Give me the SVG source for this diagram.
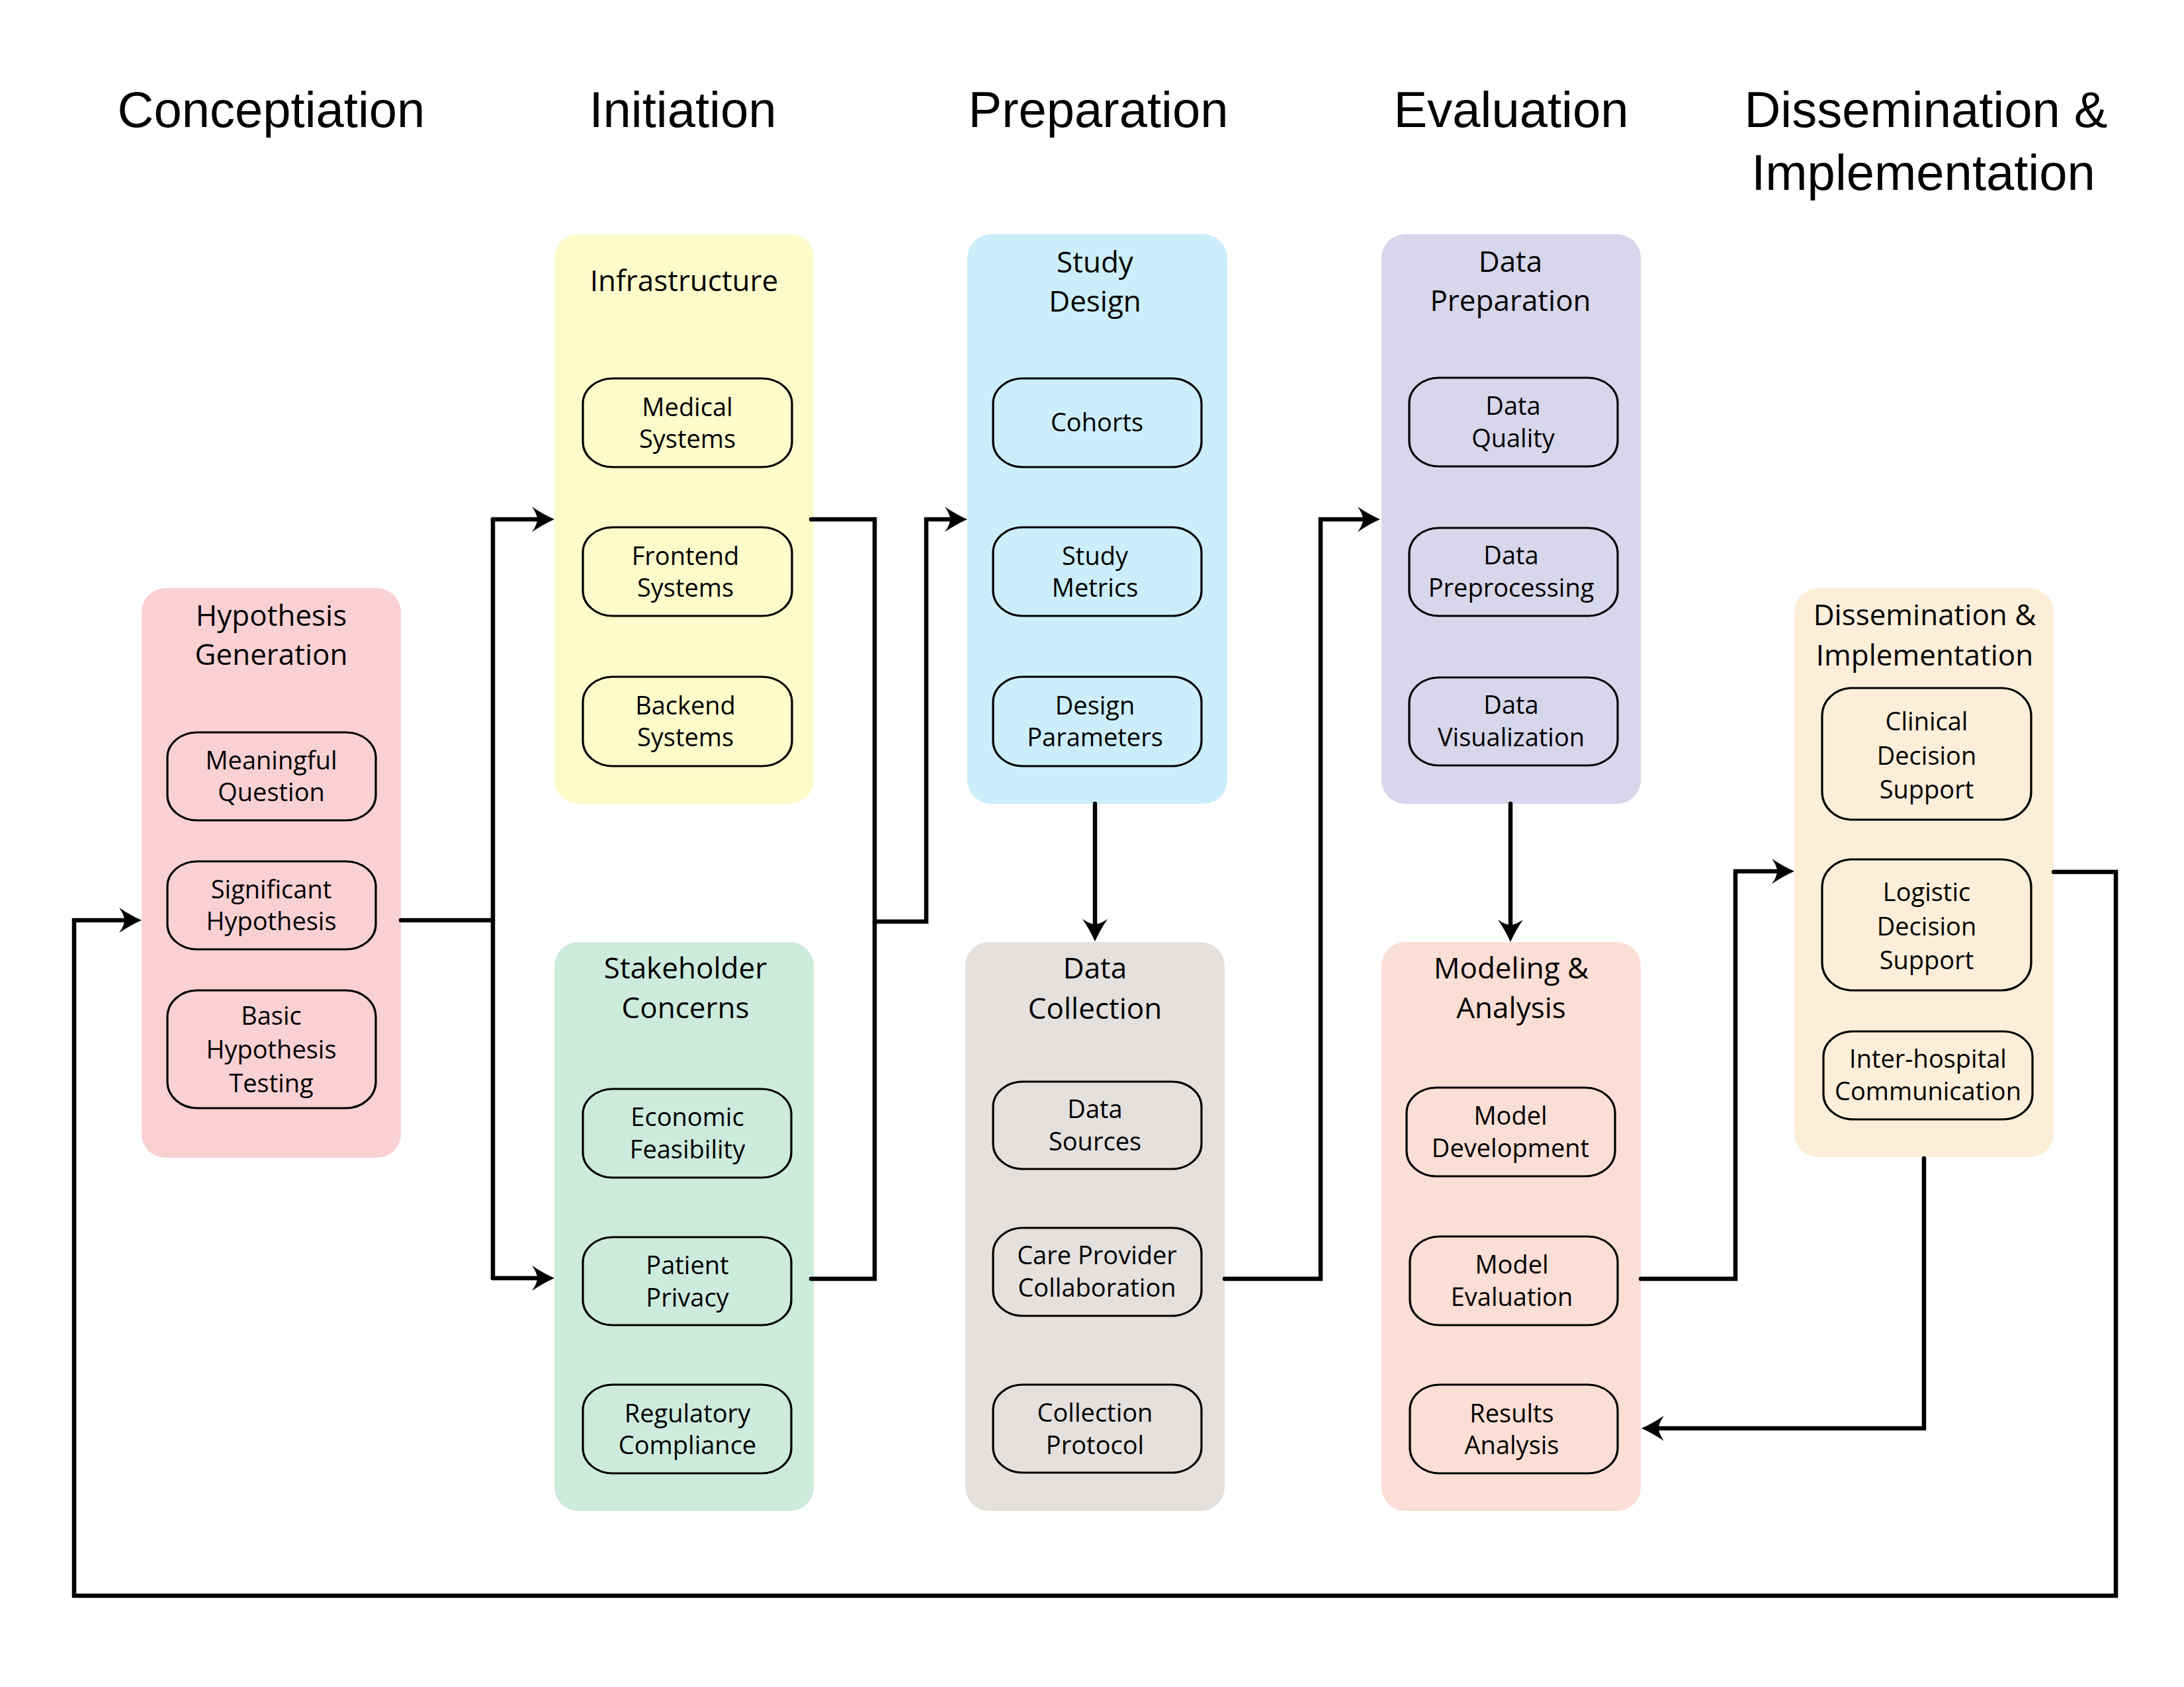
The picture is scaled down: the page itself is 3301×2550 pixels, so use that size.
<svg xmlns="http://www.w3.org/2000/svg" width="3301" height="2550" viewBox="0 0 3301 2550">
<defs>
<style>
.hdr{font-family:"Liberation Sans",Arial,sans-serif;font-size:76px;fill:#000;text-anchor:middle}
.ttl{font-family:"Open Sans","Noto Sans",sans-serif;font-size:44px;fill:#000;text-anchor:middle}
.lbl{font-family:"Open Sans","Noto Sans",sans-serif;font-size:38px;fill:#000;text-anchor:middle}
.pill{stroke:#000;stroke-width:3.2}
.con{fill:none;stroke:#000;stroke-width:6.5;stroke-linecap:round;stroke-linejoin:miter}
.arr{marker-end:url(#ah)}
</style>
<marker id="ah" viewBox="-36 -20 40 40" refX="-20" refY="0" markerWidth="40" markerHeight="40" markerUnits="userSpaceOnUse" orient="auto">
<path d="M0,0 Q-16,-7 -34,-19 Q-26,-8 -26,0 Q-26,8 -34,19 Q-16,7 0,0 Z" fill="#000"/>
</marker>
</defs>
<rect width="3301" height="2550" fill="#fff"/>

<g id="headers">
<text class="hdr" x="410" y="192">Conceptiation</text>
<text class="hdr" x="1032" y="192">Initiation</text>
<text class="hdr" x="1660" y="192">Preparation</text>
<text class="hdr" x="2284" y="192">Evaluation</text>
<text class="hdr" x="2911" y="192">Dissemination &amp;</text>
<text class="hdr" x="2907" y="287">Implementation</text>
</g>

<g id="hypothesis-generation">
<rect x="214" y="889" width="392" height="861" rx="36" fill="#F9D1D3"/>
<text class="ttl" x="410" y="946">Hypothesis</text>
<text class="ttl" x="410" y="1005">Generation</text>
<rect class="pill" x="253" y="1107" width="315" height="133" rx="45" ry="38" fill="#F9D1D3"/>
<text class="lbl" x="410" y="1163">Meaningful</text>
<text class="lbl" x="410" y="1211">Question</text>
<rect class="pill" x="253" y="1302" width="315" height="133" rx="45" ry="38" fill="#F9D1D3"/>
<text class="lbl" x="410" y="1358">Significant</text>
<text class="lbl" x="410" y="1406">Hypothesis</text>
<rect class="pill" x="253" y="1497" width="315" height="178" rx="45" ry="40" fill="#F9D1D3"/>
<text class="lbl" x="410" y="1549">Basic</text>
<text class="lbl" x="410" y="1600">Hypothesis</text>
<text class="lbl" x="410" y="1651">Testing</text>
</g>

<g id="infrastructure">
<rect x="838" y="354" width="392" height="861" rx="36" fill="#FEFBCB"/>
<text class="ttl" x="1034" y="440">Infrastructure</text>
<rect class="pill" x="881" y="572" width="316" height="134" rx="45" ry="38" fill="#FEFBCB"/>
<text class="lbl" x="1039" y="629">Medical</text>
<text class="lbl" x="1039" y="677">Systems</text>
<rect class="pill" x="881" y="797" width="316" height="134" rx="45" ry="38" fill="#FEFBCB"/>
<text class="lbl" x="1036" y="854">Frontend</text>
<text class="lbl" x="1036" y="902">Systems</text>
<rect class="pill" x="881" y="1023" width="316" height="135" rx="45" ry="38" fill="#FEFBCB"/>
<text class="lbl" x="1036" y="1080">Backend</text>
<text class="lbl" x="1036" y="1128">Systems</text>
</g>

<g id="stakeholder-concerns">
<rect x="838" y="1424" width="392" height="860" rx="36" fill="#CDEBDD"/>
<text class="ttl" x="1036" y="1479">Stakeholder</text>
<text class="ttl" x="1036" y="1539">Concerns</text>
<rect class="pill" x="881" y="1646" width="315" height="134" rx="45" ry="38" fill="#CDEBDD"/>
<text class="lbl" x="1039" y="1702">Economic</text>
<text class="lbl" x="1039" y="1751">Feasibility</text>
<rect class="pill" x="881" y="1870" width="315" height="133" rx="45" ry="38" fill="#CDEBDD"/>
<text class="lbl" x="1039" y="1926">Patient</text>
<text class="lbl" x="1039" y="1975">Privacy</text>
<rect class="pill" x="881" y="2093" width="315" height="134" rx="45" ry="38" fill="#CDEBDD"/>
<text class="lbl" x="1039" y="2150">Regulatory</text>
<text class="lbl" x="1039" y="2198">Compliance</text>
</g>

<g id="study-design">
<rect x="1462" y="354" width="393" height="861" rx="36" fill="#CBEEFA"/>
<text class="ttl" x="1655" y="412">Study</text>
<text class="ttl" x="1655" y="471">Design</text>
<rect class="pill" x="1501" y="572" width="315" height="134" rx="45" ry="38" fill="#CBEEFA"/>
<text class="lbl" x="1658" y="652">Cohorts</text>
<rect class="pill" x="1501" y="797" width="315" height="134" rx="45" ry="38" fill="#CBEEFA"/>
<text class="lbl" x="1655" y="854">Study</text>
<text class="lbl" x="1655" y="902">Metrics</text>
<rect class="pill" x="1501" y="1023" width="315" height="135" rx="45" ry="38" fill="#CBEEFA"/>
<text class="lbl" x="1655" y="1080">Design</text>
<text class="lbl" x="1655" y="1128">Parameters</text>
</g>

<g id="data-collection">
<rect x="1459" y="1424" width="392" height="860" rx="36" fill="#E4E0DD"/>
<text class="ttl" x="1655" y="1479">Data</text>
<text class="ttl" x="1655" y="1540">Collection</text>
<rect class="pill" x="1501" y="1635" width="315" height="132" rx="45" ry="38" fill="#E4E0DD"/>
<text class="lbl" x="1655" y="1690">Data</text>
<text class="lbl" x="1655" y="1739">Sources</text>
<rect class="pill" x="1501" y="1856" width="315" height="133" rx="45" ry="38" fill="#E4E0DD"/>
<text class="lbl" x="1658" y="1911">Care Provider</text>
<text class="lbl" x="1658" y="1960">Collaboration</text>
<rect class="pill" x="1501" y="2093" width="315" height="133" rx="45" ry="38" fill="#E4E0DD"/>
<text class="lbl" x="1655" y="2149">Collection</text>
<text class="lbl" x="1655" y="2198">Protocol</text>
</g>

<g id="data-preparation">
<rect x="2088" y="354" width="392" height="861" rx="36" fill="#D7D6EA"/>
<text class="ttl" x="2283" y="411">Data</text>
<text class="ttl" x="2283" y="470">Preparation</text>
<rect class="pill" x="2130" y="571" width="315" height="134" rx="45" ry="38" fill="#D7D6EA"/>
<text class="lbl" x="2287" y="627">Data</text>
<text class="lbl" x="2287" y="676">Quality</text>
<rect class="pill" x="2130" y="798" width="315" height="133" rx="45" ry="38" fill="#D7D6EA"/>
<text class="lbl" x="2284" y="853">Data</text>
<text class="lbl" x="2284" y="902">Preprocessing</text>
<rect class="pill" x="2130" y="1024" width="315" height="133" rx="45" ry="38" fill="#D7D6EA"/>
<text class="lbl" x="2284" y="1079">Data</text>
<text class="lbl" x="2284" y="1128">Visualization</text>
</g>

<g id="modeling-analysis">
<rect x="2088" y="1424" width="392" height="860" rx="36" fill="#FBDED5"/>
<text class="ttl" x="2284" y="1479">Modeling &amp;</text>
<text class="ttl" x="2284" y="1539">Analysis</text>
<rect class="pill" x="2126" y="1644" width="315" height="134" rx="45" ry="38" fill="#FBDED5"/>
<text class="lbl" x="2283" y="1700">Model</text>
<text class="lbl" x="2283" y="1749">Development</text>
<rect class="pill" x="2131" y="1869" width="314" height="134" rx="45" ry="38" fill="#FBDED5"/>
<text class="lbl" x="2285" y="1925">Model</text>
<text class="lbl" x="2285" y="1974">Evaluation</text>
<rect class="pill" x="2131" y="2093" width="314" height="134" rx="45" ry="38" fill="#FBDED5"/>
<text class="lbl" x="2285" y="2150">Results</text>
<text class="lbl" x="2285" y="2198">Analysis</text>
</g>

<g id="dissemination-implementation">
<rect x="2712" y="889" width="392" height="860" rx="36" fill="#FDEEDA"/>
<text class="ttl" x="2909" y="945">Dissemination &amp;</text>
<text class="ttl" x="2909" y="1006">Implementation</text>
<rect class="pill" x="2754" y="1040" width="316" height="199" rx="45" ry="42" fill="#FDEEDA"/>
<text class="lbl" x="2912" y="1104">Clinical</text>
<text class="lbl" x="2912" y="1156">Decision</text>
<text class="lbl" x="2912" y="1207">Support</text>
<rect class="pill" x="2754" y="1299" width="316" height="198" rx="45" ry="42" fill="#FDEEDA"/>
<text class="lbl" x="2912" y="1362">Logistic</text>
<text class="lbl" x="2912" y="1414">Decision</text>
<text class="lbl" x="2912" y="1465">Support</text>
<rect class="pill" x="2756" y="1559" width="316" height="133" rx="45" ry="38" fill="#FDEEDA"/>
<text class="lbl" x="2914" y="1614">Inter-hospital</text>
<text class="lbl" x="2914" y="1663">Communication</text>
</g>

<g id="connectors">
<path class="con" d="M606,1391 H745"/>
<path class="con" d="M745,785 V1932"/>
<path class="con arr" d="M745,785 H818"/>
<path class="con arr" d="M745,1932 H818"/>
<path class="con" d="M1226,785 H1322 V1933 H1226"/>
<path class="con arr" d="M1322,1393 H1400 V785 H1442"/>
<path class="con arr" d="M1655,1215 V1403"/>
<path class="con arr" d="M1851,1933 H1996 V785 H2066"/>
<path class="con arr" d="M2283,1215 V1404"/>
<path class="con arr" d="M2480,1933 H2623 V1317 H2692"/>
<path class="con arr" d="M3104,1318 H3198 V2412 H112 V1391 H194"/>
<path class="con arr" d="M2908,1751 V2159 H2501"/>
</g>
</svg>
